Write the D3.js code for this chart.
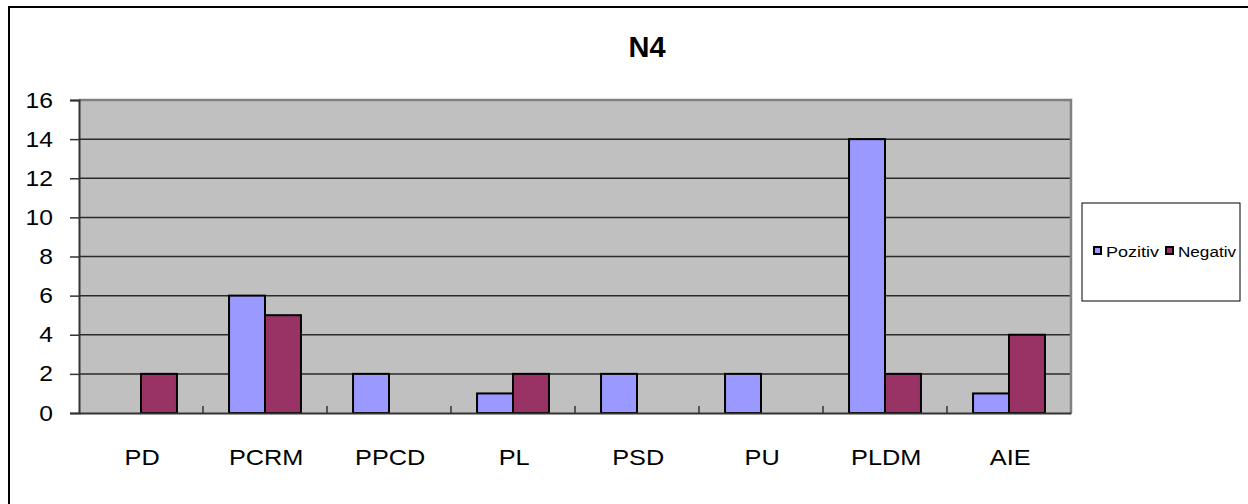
<!DOCTYPE html>
<html>
<head>
<meta charset="utf-8">
<script src="https://cdn.jsdelivr.net/npm/d3@7"></script>
<style>
  html, body { margin: 0; padding: 0; background: #fff; }
  svg { display: block; }
  text { font-family: Arial, "Liberation Sans", sans-serif; }
</style>
</head>
<body>
<svg id="chart" width="1248" height="504"></svg>
<script>
const categories = ["PD", "PCRM", "PPCD", "PL", "PSD", "PU", "PLDM", "AIE"];
const seriesNames = ["Pozitiv", "Negativ"];
const pozitiv = [0, 6, 2, 1, 2, 2, 14, 1];
const negativ = [2, 5, 0, 2, 0, 0, 2, 4];
const yTicks = [0, 2, 4, 6, 8, 10, 12, 14, 16];
const colors = ["#9999FF", "#993366"];
const title = "N4";

const svg = d3.select("#chart");

// outer frame (clipped at right and bottom)
svg.append("path")
  .attr("d", "M9,504 L9,7 L1248,7")
  .attr("fill", "none").attr("stroke", "#000").attr("stroke-width", 2);

const plot = { left: 79, right: 1071, top: 100, bottom: 413 };

const x0 = d3.scaleBand().domain(categories).range([plot.left, plot.right]).padding(0);
const groupW = x0.bandwidth() * 0.58;
const x1 = d3.scaleBand().domain(seriesNames)
  .range([(x0.bandwidth() - groupW) / 2, (x0.bandwidth() + groupW) / 2]).padding(0);
const y = d3.scaleLinear().domain([0, 16]).range([plot.bottom, plot.top]);

// plot area background
svg.append("rect")
  .attr("x", plot.left).attr("y", plot.top)
  .attr("width", plot.right - plot.left).attr("height", plot.bottom - plot.top)
  .attr("fill", "#C0C0C0");

// gridlines
svg.append("g").selectAll("line")
  .data(yTicks.filter(t => t > 0 && t < 16))
  .join("line")
  .attr("x1", plot.left).attr("x2", plot.right)
  .attr("y1", d => y(d)).attr("y2", d => y(d))
  .attr("stroke", "#2a2a2a").attr("stroke-width", 1.5);

// plot border (top and right) gray
svg.append("path")
  .attr("d", `M${plot.left},${plot.top} L${plot.right},${plot.top} L${plot.right},${plot.bottom}`)
  .attr("fill", "none").attr("stroke", "#808080").attr("stroke-width", 2.5);

// bars
const data = categories.map((c, i) => ({ cat: c, vals: [pozitiv[i], negativ[i]] }));
const groups = svg.append("g").selectAll("g")
  .data(data).join("g")
  .attr("transform", d => `translate(${x0(d.cat)},0)`);
groups.selectAll("rect")
  .data(d => d.vals.map((v, j) => ({ name: seriesNames[j], v, j })).filter(e => e.v > 0))
  .join("rect")
  .attr("x", e => x1(e.name))
  .attr("width", x1.bandwidth())
  .attr("y", e => y(e.v))
  .attr("height", e => y(0) - y(e.v))
  .attr("fill", e => colors[e.j])
  .attr("stroke", "#000").attr("stroke-width", 2);

// y axis
const yAxis = d3.axisLeft(y).tickValues(yTicks).tickSize(9).tickPadding(16);
const gy = svg.append("g").attr("transform", `translate(${plot.left},0)`).call(yAxis);
gy.select(".domain").attr("stroke", "#333").attr("stroke-width", 2);
gy.selectAll(".tick line").attr("stroke", "#333").attr("stroke-width", 1.5);
gy.selectAll(".tick text").attr("font-size", 22).attr("fill", "#000")
  .attr("font-family", "Arial, 'Liberation Sans', sans-serif")
  .attr("transform", "scale(1.12,1)")
  .attr("x", -26 / 1.12);

// x axis
const xAxis = d3.axisBottom(x0).tickSize(0).tickPadding(36);
const gx = svg.append("g").attr("transform", `translate(0,${plot.bottom})`).call(xAxis);
gx.select(".domain").attr("stroke", "#333").attr("stroke-width", 2);
gx.selectAll(".tick text").attr("font-size", 22).attr("fill", "#000")
  .attr("font-family", "Arial, 'Liberation Sans', sans-serif")
  .attr("x", 1)
  .attr("transform", "scale(1.15,1)");

// inner category tick marks at band boundaries
svg.append("g").selectAll("line")
  .data(categories.slice(1))
  .join("line")
  .attr("x1", d => x0(d)).attr("x2", d => x0(d))
  .attr("y1", plot.bottom).attr("y2", plot.bottom - 7)
  .attr("stroke", "#333").attr("stroke-width", 1.5);

// title
svg.append("text")
  .attr("x", 647).attr("y", 57)
  .attr("text-anchor", "middle")
  .attr("font-size", 29).attr("font-weight", "bold")
  .text(title);

// legend
const lg = svg.append("g");
lg.append("rect")
  .attr("x", 1082).attr("y", 203).attr("width", 158).attr("height", 98)
  .attr("fill", "#fff").attr("stroke", "#000").attr("stroke-width", 1);
const legX = [1094, 1166];
const legLen = [53, 58];
seriesNames.forEach((n, i) => {
  lg.append("rect")
    .attr("x", legX[i]).attr("y", 247).attr("width", 7).attr("height", 7)
    .attr("fill", colors[i]).attr("stroke", "#000").attr("stroke-width", 2);
  lg.append("text")
    .attr("x", legX[i] + 12).attr("y", 257)
    .attr("font-size", 15.5)
    .attr("textLength", legLen[i])
    .attr("lengthAdjust", "spacingAndGlyphs")
    .text(n);
});
</script>
</body>
</html>
